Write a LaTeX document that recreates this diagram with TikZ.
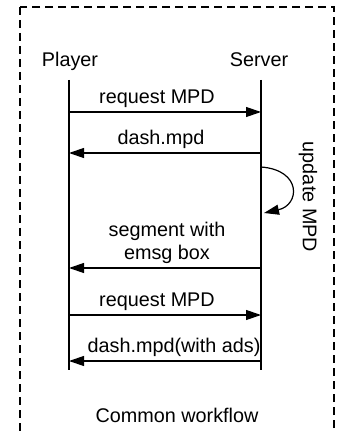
\documentclass[tikz,border=0pt]{standalone}
\usepackage{fontspec}
\setmainfont{Liberation Sans}
\usetikzlibrary{arrows.meta}
\tikzset{
  actor/.style = {font=\fontsize{9.9}{11.5}\selectfont},
  life/.style = {line width=0.6pt},
  msg/.style = {line width=0.6pt, -{Triangle[length=7.5pt,width=5pt]}},
  lbl/.style = {font=\fontsize{9.9}{11.5}\selectfont, above, inner sep=2pt, align=center}
}

\begin{document}
\begin{tikzpicture}[x=0.5pt, y=-0.5pt]
\useasboundingbox (0,0) rectangle (336,432);
\draw[dash pattern=on 4pt off 2.5pt, line width=0.7pt] (20,7) rectangle (334,470);
\node[actor, anchor=base] (player) at (70,67) {Player};
\node[actor, anchor=base] (server) at (259,67) {Server};
\coordinate (p-top) at (69,80);
\coordinate (p-bot) at (69,370);
\coordinate (s-top) at (261,80);
\coordinate (s-bot) at (261,370);
\draw[life] (p-top) -- (p-bot);
\draw[life] (s-top) -- (s-bot);
\coordinate (p1) at (69,112);
\coordinate (s1) at (261,112);
\coordinate (p2) at (69,153);
\coordinate (s2) at (261,153);
\coordinate (u1) at (261,167);
\coordinate (u2) at (264,213);
\coordinate (p3) at (69,268);
\coordinate (s3) at (261,268);
\coordinate (p4) at (69,315);
\coordinate (s4) at (261,315);
\coordinate (p5) at (69,361);
\coordinate (s5) at (261,361);
\draw[msg] (p1) -- node[lbl, xshift=-4pt] {request MPD} (s1);
\draw[msg] (s2) -- node[lbl, xshift=-2pt] {dash.mpd} (p2);
\draw[msg] (u1) .. controls (302,170) and (300,205) .. (u2);
\node[actor, rotate=-90] (update) at (308,197) {update MPD};
\draw[msg] (s3) -- node[lbl, xshift=1pt] {segment with\\emsg box} (p3);
\draw[msg] (p4) -- node[lbl, xshift=-4pt] {request MPD} (s4);
\draw[msg] (s5) -- node[lbl, xshift=4.5pt] {dash.mpd(with ads)} (p5);
\node[actor, anchor=base] (caption) at (177,422) {Common workflow};
\end{tikzpicture}
\end{document}
